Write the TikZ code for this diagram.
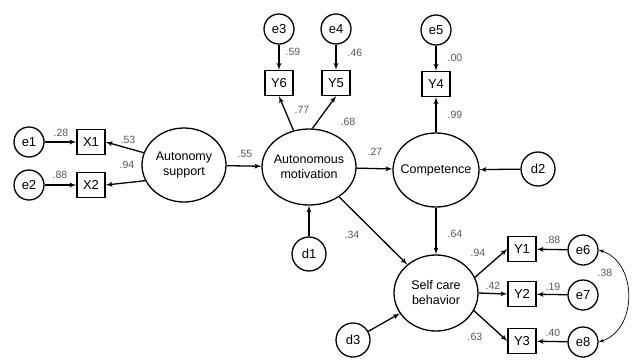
\documentclass[tikz,border=0pt]{standalone}
\usepackage{fontspec}
\setmainfont{Liberation Sans}
\usetikzlibrary{arrows}
\usetikzlibrary{shapes.geometric}

\begin{document}
\begin{tikzpicture}[x=1pt, y=-1pt, >=latex',
  latent/.style={ellipse, draw, line width=1.3pt, align=center, inner sep=-12pt, font=\fontsize{12.5}{15}\selectfont},
  item/.style={rectangle, draw, line width=1.4pt, minimum width=28, minimum height=25, inner sep=0, font=\fontsize{13}{15}\selectfont},
  err/.style={circle, draw, line width=1.3pt, minimum size=30, inner sep=0, font=\fontsize{13}{15}\selectfont},
  dist/.style={err, minimum size=34},
  path/.style={->, line width=1.3pt},
  coef/.style={inner sep=0, text=black!65, font=\fontsize{10.5}{12}\selectfont}]
\useasboundingbox (0,0) rectangle (634,360);
% latent variables
\node[latent, minimum width=84, minimum height=74] (AS) at (184,165) {Autonomy\\support};
\node[latent, minimum width=94, minimum height=76] (AM) at (309,167) {Autonomous\\motivation};
\node[latent, minimum width=86, minimum height=74] (CO) at (436,170) {Competence};
\node[latent, minimum width=84, minimum height=76] (SC) at (436,293) {Self care\\behavior};
% indicators
\node[item] (X1) at (91,142) {X1};
\node[item] (X2) at (91,185) {X2};
\node[item] (Y6) at (279,83) {Y6};
\node[item] (Y5) at (336,83) {Y5};
\node[item] (Y4) at (436,84) {Y4};
\node[item] (Y1) at (522,249) {Y1};
\node[item] (Y2) at (522,294) {Y2};
\node[item] (Y3) at (522,341) {Y3};
% errors and disturbances
\node[err] (e1) at (29,142) {e1};
\node[err] (e2) at (29,185) {e2};
\node[err] (e3) at (279,29) {e3};
\node[err] (e4) at (336,29) {e4};
\node[err] (e5) at (436,30) {e5};
\node[err] (e6) at (583,250) {e6};
\node[err] (e7) at (583,295) {e7};
\node[err] (e8) at (583,342) {e8};
\node[dist] (d1) at (309,254) {d1};
\node[dist] (d2) at (538,169) {d2};
\node[dist] (d3) at (353,340) {d3};
% paths
\draw[path] (e1) -- (X1);
\draw[path] (e2) -- (X2);
\draw[path] (AS.163) -- (X1.east);
\draw[path] (AS.202) -- (X2.east);
\draw[path] (AS) -- (AM);
\draw[path] (AM.113) -- (Y6.south);
\draw[path] (AM.85) -- (Y5.south);
\draw[path] (e3) -- (Y6);
\draw[path] (e4) -- (Y5);
\draw[path] (e5) -- (Y4);
\draw[path] (CO) -- (Y4);
\draw[path] (AM) -- (CO);
\draw[path] (d2) -- (CO);
\draw[path] (d1) -- (AM);
\draw[path] (AM) -- (SC);
\draw[path] (CO) -- (SC);
\draw[path] (d3) -- (SC);
\draw[path] (SC.22) -- (Y1.west);
\draw[path] (SC.east) -- (Y2.west);
\draw[path] (SC.-25) -- (Y3.west);
\draw[path] (e6) -- (Y1);
\draw[path] (e7) -- (Y2);
\draw[path] (e8) -- (Y3);
\draw[<->, line width=.7pt] (e6.east) .. controls (638,262) and (638,330) .. (e8.east);
% estimates
\foreach \val/\px/\py [count=\i] in {.28/61/133, .88/60/175, .53/128/140, .94/127/165, .55/245/154,
  .59/293/52, .46/355/53, .00/455/58, .77/302/110, .68/348/122, .99/455/115,
  .27/375/152, .34/352/235, .64/455/234, .94/478/253, .42/493/286, .63/475/337,
  .88/553/240, .19/553/287, .40/553/333, .38/605/273}
  \node[coef] (est\i) at (\px,\py) {\val};
\end{tikzpicture}
\end{document}
